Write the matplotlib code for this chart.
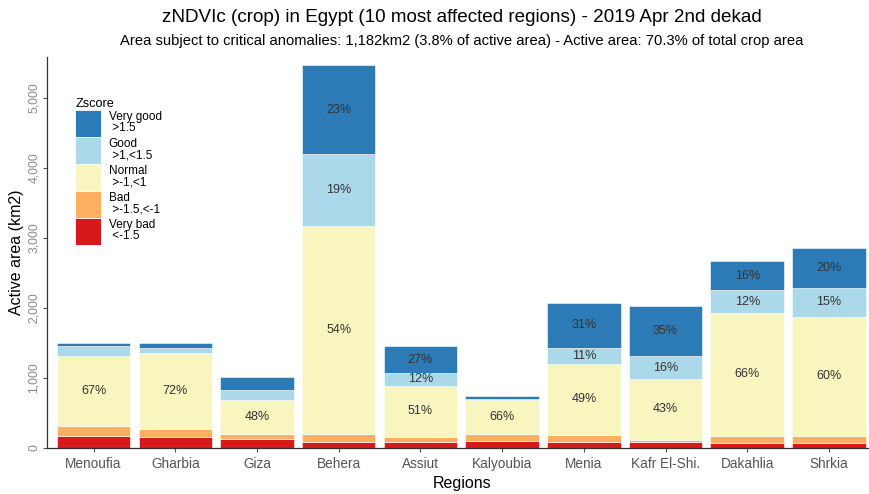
import numpy as np
import matplotlib
matplotlib.use("Agg")
import matplotlib.pyplot as plt
from matplotlib.patches import Patch

plt.rcParams['font.family'] = ['Liberation Sans', 'DejaVu Sans']

regions = ["Menoufia", "Gharbia", "Giza", "Behera", "Assiut",
           "Kalyoubia", "Menia", "Kafr El-Shi.", "Dakahlia", "Shrkia"]

# Active area per z-score class (km2)
very_bad  = [160, 145, 115,   80,  80,  95,  80,  75,   60,   60]
bad       = [150, 115,  85,  110,  65, 100, 105,  35,  105,  105]
normal    = [1000, 1085, 485, 2971, 740, 485, 1015, 870, 1760, 1700]
good      = [140,  80, 140, 1033, 175,  10, 225, 325,  320,  420]
very_good = [ 40,  75, 185, 1267, 390,  40, 645, 710,  425,  565]

# Which upper segments carry a percentage label
label_good      = [False, False, False, True, True, False, True, True, True, True]
label_very_good = [False, False, False, True, True, False, True, True, True, True]

classes = [
    ("Very bad\n <-1.5", very_bad, "#D7191C"),
    ("Bad\n >-1.5,<-1", bad, "#FDAE61"),
    ("Normal\n >-1,<1", normal, "#F8F6BE"),
    ("Good\n >1,<1.5", good, "#ABD9E9"),
    ("Very good\n >1.5", very_good, "#2C7BB6"),
]

title = "zNDVIc (crop) in Egypt (10 most affected regions) - 2019 Apr 2nd dekad"
subtitle = ("Area subject to critical anomalies: 1,182km2 (3.8% of active area) - "
            "Active area: 70.3% of total crop area")

W, H = 870, 494
fig = plt.figure(figsize=(W / 100, H / 100), dpi=100)
ax = fig.add_axes([47 / W, 46.5 / H, 831 / W, 390.5 / H])

x = np.arange(len(regions))
totals = np.sum([np.array(c[1]) for c in classes], axis=0)
bottom = np.zeros(len(regions))
bars = {}
for name, vals, col in classes:
    vals = np.array(vals, dtype=float)
    ax.bar(x, vals, bottom=bottom, width=0.9, color=col, edgecolor="white",
           linewidth=0.4)
    bars[name] = (bottom.copy(), vals)
    bottom += vals

txt_kw = dict(ha="center", va="center", fontsize=9, color="#333333")
for name, flags in [("Normal\n >-1,<1", [True] * len(regions)),
                    ("Good\n >1,<1.5", label_good),
                    ("Very good\n >1.5", label_very_good)]:
    b, v = bars[name]
    for i in range(len(regions)):
        if flags[i]:
            pct = 100 * v[i] / totals[i]
            ax.text(x[i], b[i] + v[i] / 2, f"{pct:.0f}%", **txt_kw)

ax.set_xlim(-0.57, 9.6)
ax.set_ylim(0, 5580)
ax.set_xticks(x)
ax.set_xticklabels(regions, fontsize=9.8, color="#555555")
yt = np.arange(0, 5001, 1000)
ax.set_yticks(yt)
ax.set_yticklabels([f"{v:,.0f}" for v in yt], fontsize=8.8, color="#8a8a8a",
                   rotation=90, va="center")
ax.tick_params(axis="both", length=3, color="#555555", width=0.8)
ax.tick_params(axis="y", pad=2)
for s in ["top", "right"]:
    ax.spines[s].set_visible(False)
for s in ["left", "bottom"]:
    ax.spines[s].set_color("#333333")
    ax.spines[s].set_linewidth(0.9)

ax.set_xlabel("Regions", fontsize=11.5, labelpad=4)
ax.set_ylabel("Active area (km2)", fontsize=11.5, labelpad=3)

fig.text(462 / W, 1 - 17 / H, title, ha="center", va="center", fontsize=13.6)
fig.text(462 / W, 1 - 41 / H, subtitle, ha="center", va="center", fontsize=10.6)

handles = [Patch(facecolor=c[2], edgecolor="white", linewidth=0.6, label=c[0])
           for c in classes[::-1]]
leg = ax.legend(handles=handles, title="Zscore", loc="upper left",
                bbox_to_anchor=(0.025, 0.915), frameon=False, fontsize=8.5,
                title_fontsize=9.2, handlelength=2.2, handleheight=3.1,
                labelspacing=0.03, handletextpad=0.6, borderpad=0.15)
leg._legend_box.align = "left"
for t in leg.get_texts():
    t.set_linespacing(0.95)

fig.savefig("out.png", dpi=100)
